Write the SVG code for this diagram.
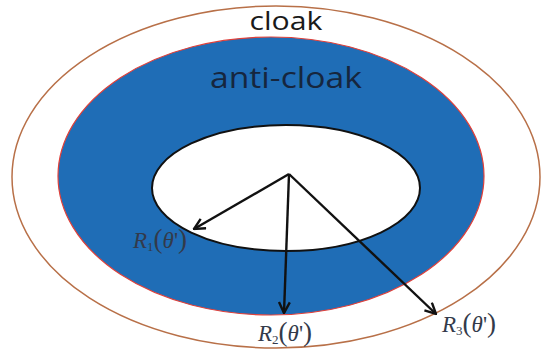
<svg xmlns="http://www.w3.org/2000/svg" width="548" height="352" viewBox="0 0 548 352">
<defs>
<marker id="ah" viewBox="0 0 12 12" refX="11" refY="6" markerWidth="13" markerHeight="13" markerUnits="userSpaceOnUse" orient="auto">
<polyline points="1,1 11,6 1,11" fill="none" stroke="#111" stroke-width="2.2" stroke-linejoin="miter"/>
</marker>
<style>
.lbl{font-family:"Liberation Serif",serif;font-size:23px;fill:#333a4a}
.it{font-style:italic}
.sub{font-size:13px}
.par{font-size:27px}
.arr{stroke:#111;stroke-width:2.4;fill:none;marker-end:url(#ah)}
</style>
</defs>
<rect width="548" height="352" fill="#fff"/>
<g id="cloak">
<ellipse cx="276" cy="177" rx="264" ry="171" fill="#fff" stroke="#b87048" stroke-width="1.5"/>
<text x="286" y="30" text-anchor="middle" font-family="Open Sans, sans-serif" font-size="25" fill="#1a1a1a" textLength="73" lengthAdjust="spacingAndGlyphs">cloak</text>
</g>
<g id="anti-cloak">
<ellipse cx="271" cy="176" rx="213" ry="139" fill="#1f6db6" stroke="#e0403a" stroke-width="1.2"/>
<text x="286" y="88" text-anchor="middle" font-family="Open Sans, sans-serif" font-size="29" fill="#16263e" textLength="152" lengthAdjust="spacingAndGlyphs">anti-cloak</text>
</g>
<g id="core">
<ellipse cx="286" cy="188" rx="134" ry="63" fill="#fff" stroke="#111" stroke-width="2"/>
</g>
<g id="connectors">
<line class="arr" x1="289" y1="174" x2="194" y2="229"/>
<line class="arr" x1="289" y1="174" x2="284" y2="313"/>
<line class="arr" x1="289" y1="174" x2="436" y2="314"/>
</g>
<g id="labels">
<text class="lbl" x="133" y="248"><tspan class="it">R</tspan><tspan class="sub" dy="3">1</tspan><tspan class="par" dy="-3">(</tspan><tspan class="it">θ</tspan>'<tspan class="par">)</tspan></text>
<text class="lbl" x="258" y="341"><tspan class="it">R</tspan><tspan class="sub" dy="3">2</tspan><tspan class="par" dy="-3">(</tspan><tspan class="it">θ</tspan>'<tspan class="par">)</tspan></text>
<text class="lbl" x="442" y="332"><tspan class="it">R</tspan><tspan class="sub" dy="3">3</tspan><tspan class="par" dy="-3">(</tspan><tspan class="it">θ</tspan>'<tspan class="par">)</tspan></text>
</g>
</svg>
